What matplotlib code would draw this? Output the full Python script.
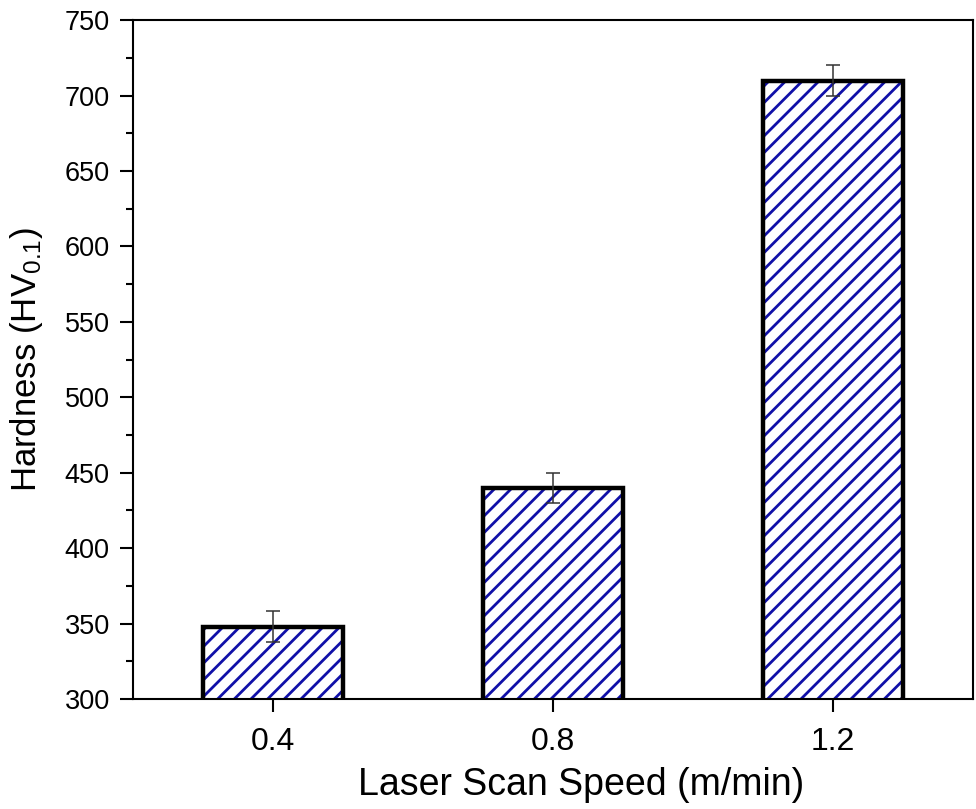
import numpy as np
import matplotlib
matplotlib.use("Agg")
import matplotlib.pyplot as plt
from matplotlib.ticker import MultipleLocator

plt.rcParams['font.family'] = ['Liberation Sans', 'DejaVu Sans']
plt.rcParams['mathtext.fontset'] = 'custom'
plt.rcParams['mathtext.rm'] = 'Liberation Sans'
plt.rcParams['mathtext.it'] = 'Liberation Sans'
plt.rcParams['hatch.linewidth'] = 2.0

# data
speeds = [0.4, 0.8, 1.2]
speed_labels = ['0.4', '0.8', '1.2']
hardness = [348, 440, 710]
hardness_err = [10, 10, 10]

fig = plt.figure(figsize=(9.76, 8.09), dpi=100)
ax = fig.add_axes([0.136, 0.136, 0.861, 0.839])

# hatch layer first, then the thick black outline on top
ax.bar(speeds, hardness, width=0.2, color='white', edgecolor='#1010a8',
       hatch='//', linewidth=0, zorder=2)
ax.bar(speeds, hardness, width=0.2, fill=False, edgecolor='black',
       linewidth=3.2, zorder=3)
ax.errorbar(speeds, hardness, yerr=hardness_err, fmt='none', ecolor='#333333',
            elinewidth=1.1, capsize=5, capthick=1.1, zorder=4)

ax.set_xlim(0.2, 1.4)
ax.set_ylim(300, 750)
ax.set_xticks(speeds)
ax.set_xticklabels(speed_labels)
ax.yaxis.set_major_locator(MultipleLocator(50))
ax.yaxis.set_minor_locator(MultipleLocator(25))

ax.tick_params(axis='both', which='major', direction='out', length=9.5, width=1.5)
ax.tick_params(axis='y', labelsize=19.5, pad=7)
ax.tick_params(axis='x', labelsize=23, pad=11)
ax.tick_params(axis='y', which='minor', direction='out', length=5, width=1.5)
for s in ax.spines.values():
    s.set_linewidth(1.5)

ax.set_xlabel('Laser Scan Speed (m/min)', fontsize=27, labelpad=10)
ax.xaxis.set_label_coords(0.534, -0.1)
ax.xaxis.label.set_va('top')
ax.set_ylabel('Hardness (HV$_{0.1}$)', fontsize=25, labelpad=14)

fig.savefig('out.png', dpi=100)
